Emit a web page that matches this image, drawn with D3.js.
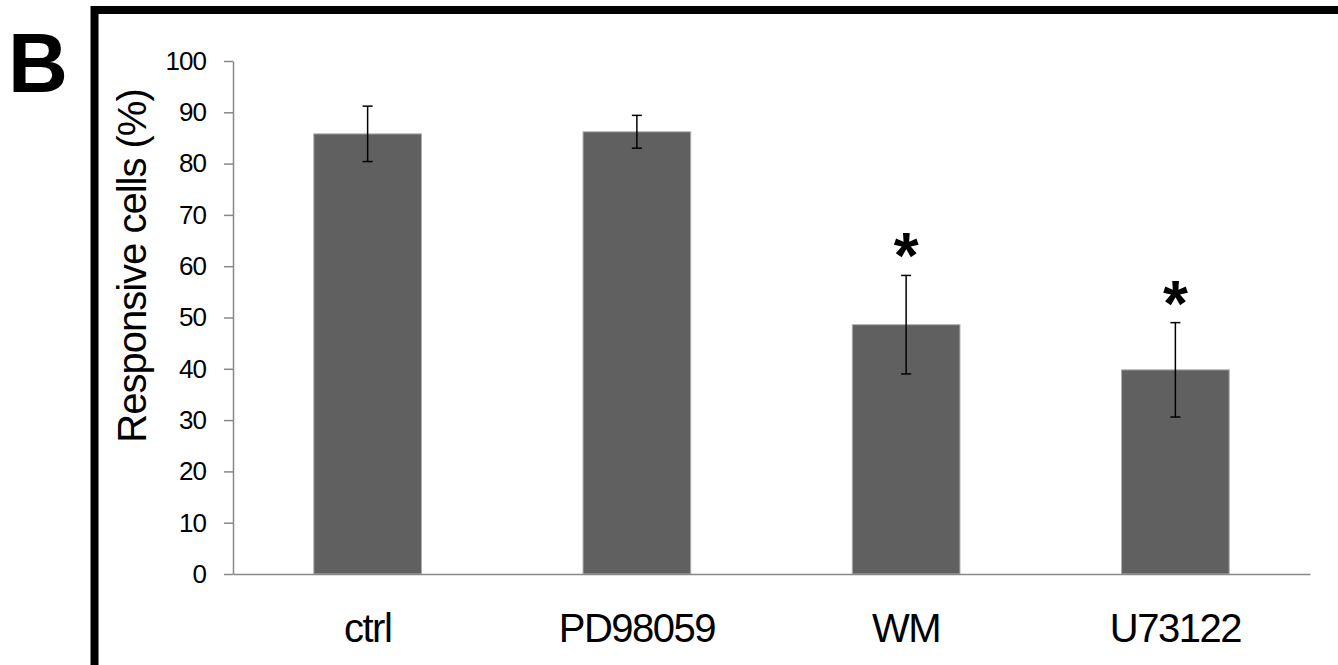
<!DOCTYPE html>
<html><head><meta charset="utf-8">
<script src="https://cdn.jsdelivr.net/npm/d3@7"></script>
<style>body{margin:0;background:#fff;}svg{display:block;font-family:"Liberation Sans",Arial,sans-serif;}</style>
</head><body>
<svg id="c" width="1338" height="665"></svg>
<script>
const categories = ["ctrl", "PD98059", "WM", "U73122"];
const values = [85.8, 86.2, 48.6, 39.8];
const errors = [5.4, 3.2, 9.6, 9.2];
const significant = [false, false, true, true];
const yTicks = [0,10,20,30,40,50,60,70,80,90,100];

(function(){
const svg = d3.select("#c");
const mLeft = 233, mRight = 1310, mTop = 61, mBottom = 574;

// frame
svg.append("rect").attr("x", 94.5).attr("y", 10).attr("width", 1400).attr("height", 800)
  .attr("fill", "none").attr("stroke", "#000").attr("stroke-width", 8);

svg.append("text").attr("x", 8).attr("y", 92).attr("font-size", 83).attr("font-weight", "bold").text("B");

const x = d3.scaleBand().domain(categories).range([mLeft, mRight]).paddingInner(0.6).paddingOuter(0.3);
const y = d3.scaleLinear().domain([0, 100]).range([mBottom, mTop]);

// bars
svg.selectAll("rect.bar").data(categories).join("rect").attr("class", "bar")
  .attr("x", d => x(d)).attr("width", x.bandwidth())
  .attr("y", (d, i) => y(values[i])).attr("height", (d, i) => mBottom - y(values[i]))
  .attr("fill", "#606060").attr("stroke", "#b0b0b0").attr("stroke-width", 1);

// y axis
const ya = svg.append("g").attr("transform", `translate(${mLeft},0)`)
  .call(d3.axisLeft(y).tickValues(yTicks).tickSize(9).tickPadding(18).tickSizeOuter(0));
ya.select(".domain").attr("stroke", "#888").attr("stroke-width", 1.5);
ya.selectAll(".tick line").attr("stroke", "#888").attr("stroke-width", 1.5);
ya.selectAll(".tick text").attr("font-size", 26).attr("letter-spacing", -1).attr("fill", "#000")
  .attr("font-family", "Liberation Sans, Arial, sans-serif");

// x axis
const xa = svg.append("g").attr("transform", `translate(0,${mBottom})`)
  .call(d3.axisBottom(x).tickSize(0).tickPadding(40));
xa.select(".domain").attr("stroke", "#888").attr("stroke-width", 1.5);
xa.selectAll(".tick text").attr("font-size", 40).attr("letter-spacing", -1.5).attr("fill", "#000")
  .attr("font-family", "Liberation Sans, Arial, sans-serif");

// error bars
const eb = svg.selectAll("g.err").data(categories).join("g").attr("class", "err");
eb.append("line").attr("x1", d => x(d) + x.bandwidth()/2).attr("x2", d => x(d) + x.bandwidth()/2)
  .attr("y1", (d, i) => y(values[i] + errors[i])).attr("y2", (d, i) => y(values[i] - errors[i]))
  .attr("stroke", "#000").attr("stroke-width", 1.5);
[1, -1].forEach(s => {
  eb.append("line").attr("x1", d => x(d) + x.bandwidth()/2 - 5).attr("x2", d => x(d) + x.bandwidth()/2 + 5)
    .attr("y1", (d, i) => y(values[i] + s*errors[i])).attr("y2", (d, i) => y(values[i] + s*errors[i]))
    .attr("stroke", "#000").attr("stroke-width", 1.5);
});

// asterisks
svg.selectAll("text.star").data(categories.filter((d, i) => significant[i])).join("text").attr("class", "star")
  .attr("x", d => x(d) + x.bandwidth()/2)
  .attr("y", d => { const i = categories.indexOf(d); return y(values[i] + errors[i]) + 3; })
  .attr("text-anchor", "middle").attr("font-size", 64).attr("font-weight", "bold").text("*");

// y title
svg.append("text").attr("transform", "translate(146,266) rotate(-90)").attr("text-anchor", "middle")
  .attr("font-size", 40).attr("letter-spacing", -1).text("Responsive cells (%)");
})();
</script>
</body></html>
